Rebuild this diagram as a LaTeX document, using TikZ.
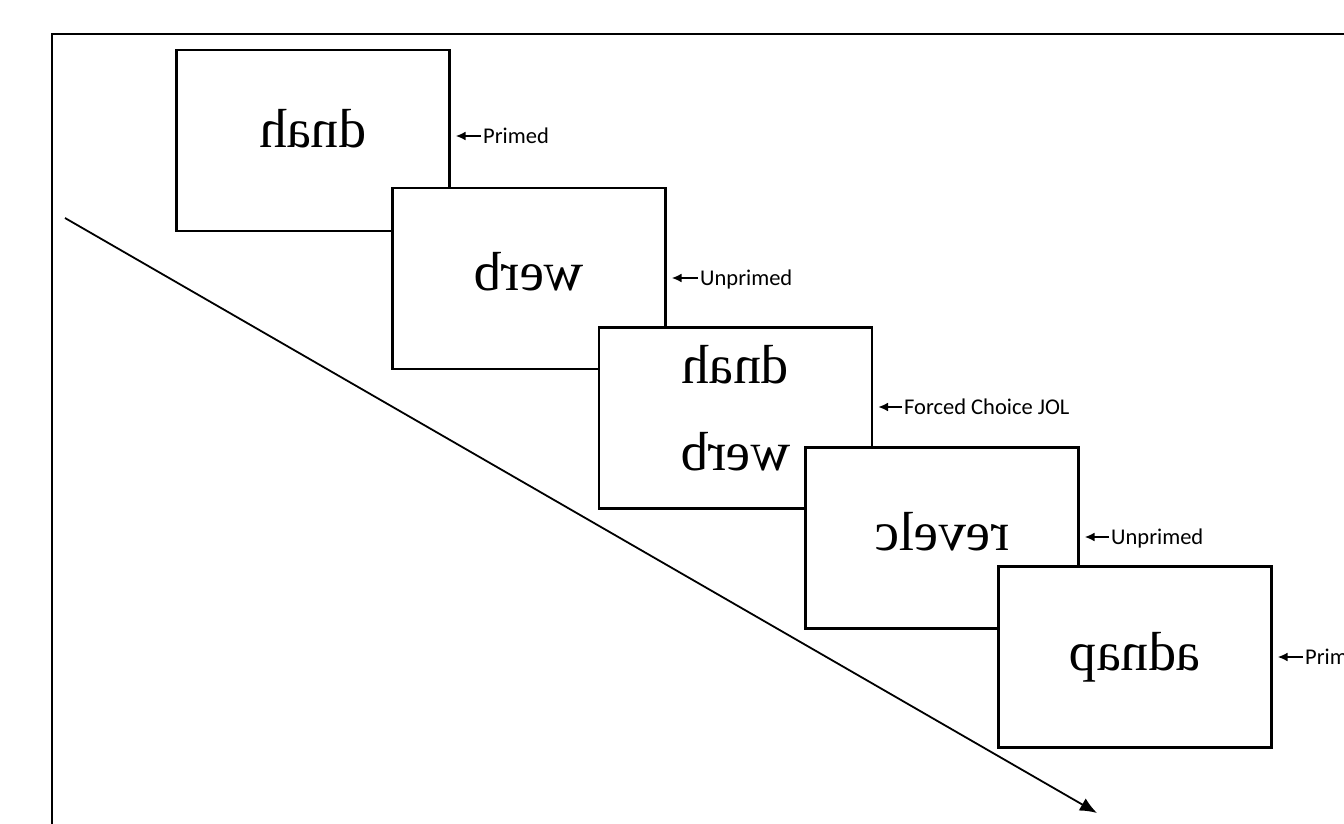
\documentclass[tikz,border=0pt]{standalone}
\usepackage{graphicx}
\usepackage{fontspec}
\setmainfont{Liberation Serif}
\newfontfamily\labfont{Carlito}
\usetikzlibrary{arrows.meta}

\tikzset{
  frame/.style={draw=black, line width=2.2pt},
  card/.style={draw=black, fill=white, line width=2.2pt,
    minimum width=273pt, minimum height=181pt, inner sep=0pt},
  word/.style={inner sep=0pt, anchor=base,
    font=\fontsize{55}{60}\selectfont},
  lab/.style={inner sep=0pt, anchor=west, text height=14pt, text depth=0pt,
    font=\labfont\fontsize{22.5}{25}\selectfont},
  ptr/.style={draw=black, line width=2pt,
    -{Latex[length=10pt,width=9pt]}, shorten <=2pt, shorten >=5pt},
  timeline/.style={draw=black, line width=1.8pt,
    -{Latex[length=17pt,width=14pt]}}
}

\begin{document}
\begin{tikzpicture}[x=1pt,y=-1pt]
\useasboundingbox (0,0) rectangle (1344,824);
\clip (0,0) rectangle (1344,824);
\fill[white] (0,0) rectangle (1344,824);

% outer frame, running off the right and bottom edges
\draw[frame] (52,34) rectangle (1500,1000);

% time axis
\coordinate (ts) at (65,218);
\coordinate (te) at (1097,813);
\draw[timeline] (ts) -- (te);

% trial screens, each drawn over the previous one
\node[card] (b1) at (313,140.5) {};
\node[word] (w1) at (313,148) {\reflectbox{dnah}};

\node[card] (b2) at (529,278.5) {};
\node[word] (w2) at (529,290) {\reflectbox{werb}};

\node[card] (b3) at (735.5,418) {};
\node[word] (w3a) at (735.5,383) {\reflectbox{dnah}};
\node[word] (w3b) at (735.5,470) {\reflectbox{werb}};

\node[card] (b4) at (942,538) {};
\node[word] (w4) at (942,550) {\reflectbox{revelc}};

\node[card] (b5) at (1135,657) {};
\node[word] (w5) at (1135,670) {\reflectbox{adnap}};

% condition labels
\node[lab] (l1) at (483,136) {Primed};
\draw[ptr] (l1.west) -- (l1.west -| b1.east);

\node[lab] (l2) at (700,278) {Unprimed};
\draw[ptr] (l2.west) -- (l2.west -| b2.east);

\node[lab] (l3) at (904,407) {Forced Choice JOL};
\draw[ptr] (l3.west) -- (l3.west -| b3.east);

\node[lab] (l4) at (1111,537) {Unprimed};
\draw[ptr] (l4.west) -- (l4.west -| b4.east);

\node[lab] (l5) at (1305,657) {Primed};
\draw[ptr] (l5.west) -- (l5.west -| b5.east);
\end{tikzpicture}
\end{document}
